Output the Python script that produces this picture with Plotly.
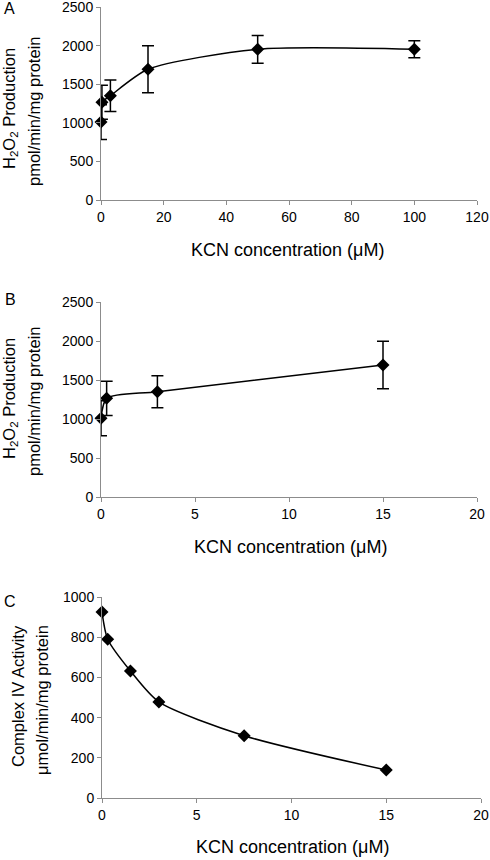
import plotly.graph_objects as go

# Panel A data
a_x = [0, 0.3, 3, 15, 50, 100]
a_y = [1010, 1265, 1350, 1693, 1952, 1952]
a_err = [225, 220, 205, 305, 180, 110]

# Panel B data
b_x = [0, 0.3, 3, 15]
b_y = [1010, 1265, 1350, 1693]
b_err = [225, 220, 205, 305]

# Panel C data
c_x = [0, 0.3, 1.5, 3, 7.5, 15]
c_y = [925, 790, 632, 478, 310, 139]

W, H = 490, 860
FONT = "Liberation Sans, Arial, sans-serif"
AX = "#8c8c8c"

def px(x):
    return x / W

def py(y):
    return 1 - y / H

fig = go.Figure()

def add_series(x, y, err, xa, ya):
    fig.add_trace(go.Scatter(
        x=x, y=y, mode="lines+markers", cliponaxis=False,
        line=dict(color="black", width=1.5, shape="spline", smoothing=0.7),
        marker=dict(symbol="diamond", size=10, color="black"),
        error_y=(dict(type="data", array=err, visible=True, color="black",
                      thickness=1.5, width=6) if err is not None else None),
        xaxis=xa, yaxis=ya, showlegend=False, hoverinfo="skip"))

add_series(a_x, a_y, a_err, "x", "y")
add_series(b_x, b_y, b_err, "x2", "y2")
add_series(c_x, c_y, None, "x3", "y3")

common = dict(showline=True, linecolor=AX, linewidth=1, ticks="outside",
              tickcolor=AX, ticklen=4, tickwidth=1, showgrid=False,
              zeroline=False, automargin=False, ticklabeloverflow="allow",
              tickfont=dict(family=FONT, size=14, color="black"))

fig.update_layout(
    width=W, height=H, margin=dict(l=0, r=0, t=0, b=0, pad=0), autosize=False,
    paper_bgcolor="white", plot_bgcolor="white",
    font=dict(family=FONT, color="black"),
    xaxis=dict(domain=[px(101), px(477)], range=[0, 120], tickvals=[0, 20, 40, 60, 80, 100, 120], anchor="y", **common),
    yaxis=dict(domain=[py(200), py(7)], range=[0, 2500], tickvals=[0, 500, 1000, 1500, 2000, 2500], anchor="x", **common),
    xaxis2=dict(domain=[px(101), px(477)], range=[0, 20], tickvals=[0, 5, 10, 15, 20], anchor="y2", **common),
    yaxis2=dict(domain=[py(497), py(302)], range=[0, 2500], tickvals=[0, 500, 1000, 1500, 2000, 2500], anchor="x2", **common),
    xaxis3=dict(domain=[px(102), px(481)], range=[0, 20], tickvals=[0, 5, 10, 15, 20], anchor="y3", **common),
    yaxis3=dict(domain=[py(798), py(597)], range=[0, 1000], tickvals=[0, 200, 400, 600, 800, 1000], anchor="x3", **common),
)

def ann(text, x, y, size, angle=0):
    fig.add_annotation(text=text, x=px(x), y=py(y), xref="paper", yref="paper",
                       showarrow=False, textangle=angle, xanchor="center", yanchor="middle",
                       font=dict(family=FONT, size=size, color="black"))

# panel letters
ann("A", 9, 9, 16)
ann("B", 10, 300, 16)
ann("C", 10, 601, 16)

# x titles
xt = "KCN concentration (μM)"
ann(xt, 287, 250, 18)
ann(xt, 290, 547, 18)
ann(xt, 292, 847, 18)

# y titles
h2o2 = "H<sub>2</sub>O<sub>2</sub> Production"
ann(h2o2, 10, 109, 16.5, -90)
ann("pmol/min/mg protein", 34, 112, 16.5, -90)
ann(h2o2, 10, 399, 16.5, -90)
ann("pmol/min/mg protein", 34, 402, 16.5, -90)
ann("Complex IV Activity", 18, 696, 16.5, -90)
ann("μmol/min/mg protein", 42, 700, 16.5, -90)

fig.write_html("out.html", config={"displayModeBar": False},
               post_script="document.body.style.margin='0';document.body.style.overflow='hidden';")
